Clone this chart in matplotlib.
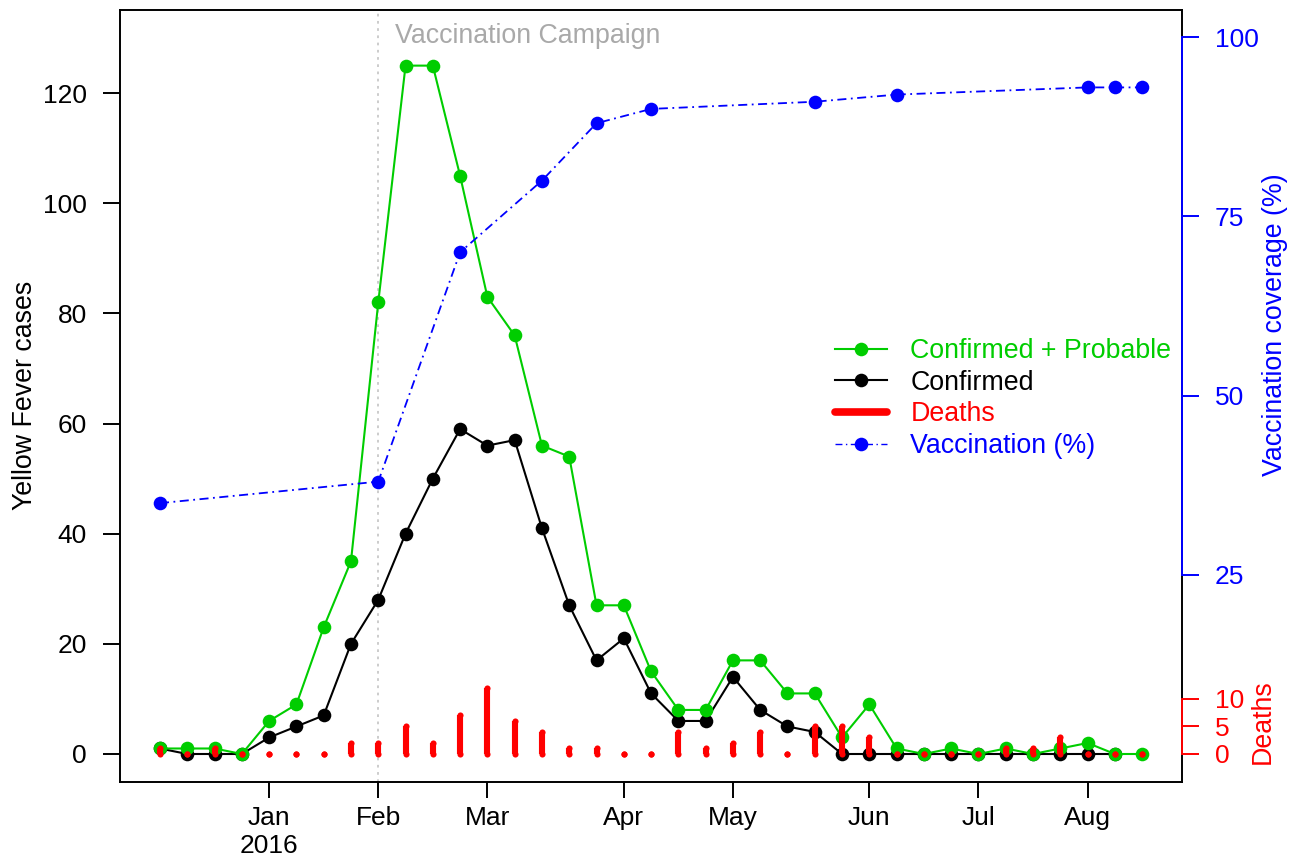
import numpy as np
import pandas as pd
import matplotlib
matplotlib.use('Agg')
import matplotlib.pyplot as plt
from matplotlib.lines import Line2D

plt.rcParams['font.family'] = ['Liberation Sans', 'DejaVu Sans']

# ---------------- data ----------------
week_start = pd.date_range('2015-12-08', periods=37, freq='7D')
confirmed_probable = [1, 1, 1, 0, 6, 9, 23, 35, 82, 125, 125, 105, 83, 76, 56, 54,
                      27, 27, 15, 8, 8, 17, 17, 11, 11, 3, 9, 1, 0, 1, 0, 1, 0, 1, 2, 0, 0]
confirmed = [1, 0, 0, 0, 3, 5, 7, 20, 28, 40, 50, 59, 56, 57, 41, 27,
             17, 21, 11, 6, 6, 14, 8, 5, 4, 0, 0, 0, 0, 0, 0, 0, 0, 0, 0, 0, np.nan]
deaths = [1, 0, 1, 0, 0, 0, 0, 2, 2, 5, 2, 7, 12, 6, 4, 1,
          1, 0, 0, 4, 1, 2, 4, 0, 5, 5, 3, 0, 0, 0, 0, 1, 1, 3, 0, 0, 0]
vacc_week_index = [0, 8, 11, 14, 16, 18, 24, 27, 34, 35, 36]
vacc_coverage = [35, 38, 70, 80, 88, 90, 91, 92, 93, 93, 93]
campaign_start = pd.Timestamp('2016-02-02')
month_names = ['Jan', 'Feb', 'Mar', 'Apr', 'May', 'Jun', 'Jul', 'Aug']
month_numbers = [1, 2, 3, 4, 5, 6, 7, 8]
tick_year = '2016'

# ---------------- derived positions ----------------
x = np.arange(len(week_start))
tick_idx = []
for m in month_numbers:
    idx = [i for i, d in enumerate(week_start) if d.year == 2016 and d.month == m][0]
    tick_idx.append(idx)
tick_labels = [month_names[0] + '\n' + tick_year] + month_names[1:]
campaign_idx = int(np.argmin(np.abs((week_start - campaign_start).days)))

GREEN = '#00CD00'
BLUE = '#0000FF'
RED = '#FF0000'
FS = 19
FS_TXT = 19.3

W, H = 1301, 861
fig = plt.figure(figsize=(W / 100, H / 100), dpi=100)
left, right, top, bottom = 120, 1182, 10, 781.7
ax = fig.add_axes([left / W, 1 - bottom / H, (right - left) / W, (bottom - top) / H])

ax.set_xlim(-1.466, 37.46)
ylo, yhi = -5.03, 135.1
ax.set_ylim(ylo, yhi)

# campaign marker
ax.axvline(campaign_idx, color='#C8C8C8', ls=(0, (1.5, 2.5)), lw=1.3, zorder=1)
ax.text(campaign_idx + 0.62, 130.3, 'Vaccination Campaign', color='#A9A9A9',
        fontsize=FS_TXT, va='center', ha='left')

ms = 9.8
ax.plot(x, confirmed, color='black', lw=1.5, marker='o', ms=ms, mew=0, zorder=3)
ax.plot(x, confirmed_probable, color=GREEN, lw=1.5, marker='o', ms=ms, mew=0, zorder=4)

for s in ax.spines.values():
    s.set_linewidth(1.4)
ax.set_yticks(range(0, 121, 20))
ax.tick_params(axis='y', direction='out', length=12, width=1.4, labelsize=FS, pad=12)
ax.set_xticks(tick_idx)
ax.set_xticklabels(tick_labels)
ax.tick_params(axis='x', direction='out', length=11.5, width=1.4, labelsize=FS, pad=6)

# vaccination axis
scale = yhi / 103.8
dashdot = (0, (5, 2.5, 1, 2.5))
ax2 = ax.twinx()
ax2.set_ylim(ylo / scale, yhi / scale)
ax2.plot(vacc_week_index, vacc_coverage, color=BLUE, lw=1.3, ls=dashdot,
         marker='o', ms=ms, mew=0)
for k in ['left', 'top', 'bottom']:
    ax2.spines[k].set_visible(False)
ax2.spines['right'].set_bounds(25, 100)
ax2.spines['right'].set_color(BLUE)
ax2.spines['right'].set_linewidth(1.4)
ax2.set_yticks([25, 50, 75, 100])
ax2.tick_params(axis='y', direction='out', length=12, width=1.4, labelsize=FS, pad=11.5,
                colors=BLUE)

# deaths axis
ax3 = ax.twinx()
ax3.set_ylim(ylo, yhi)
bar_lw = 4.4
ax3.vlines(x, 0, deaths, colors=RED, lw=bar_lw)
ax3.plot(x, np.zeros(len(x)), 'o', color=RED, ms=bar_lw, mew=0)
ax3.plot(x, deaths, 'o', color=RED, ms=bar_lw, mew=0)
for k in ['left', 'top', 'bottom']:
    ax3.spines[k].set_visible(False)
ax3.spines['right'].set_bounds(0, 10)
ax3.spines['right'].set_color(RED)
ax3.spines['right'].set_linewidth(1.4)
ax3.set_yticks([0, 5, 10])
ax3.tick_params(axis='y', direction='out', length=12, width=1.4, labelsize=FS, pad=11.5,
                colors=RED)

# axis titles
fig.text(25 / W, 1 - 395 / H, 'Yellow Fever cases', rotation=90, ha='center', va='center',
         fontsize=FS_TXT)
fig.text(1275 / W, 1 - 325 / H, 'Vaccination coverage (%)', rotation=90, ha='center',
         va='center', fontsize=FS_TXT, color=BLUE)
fig.text(1263 / W, 1 - 722 / H, 'Deaths', rotation=90, ha='center', va='center',
         fontsize=FS_TXT, color=RED)

# legend
handles = [
    Line2D([], [], color=GREEN, lw=1.5, marker='o', ms=ms, mew=0),
    Line2D([], [], color='black', lw=1.5, marker='o', ms=ms, mew=0),
    Line2D([], [], color=RED, lw=5.5, solid_capstyle='round'),
    Line2D([], [], color=BLUE, lw=1.0, ls=dashdot, marker='o', ms=ms, mew=0),
]
labels = ['Confirmed + Probable', 'Confirmed', 'Deaths', 'Vaccination (%)']
ax3.legend(handles, labels, loc='upper left', bbox_to_anchor=(835 / W, 1 - 338 / H),
           bbox_transform=fig.transFigure, frameon=False, fontsize=FS_TXT,
           handlelength=1.95, handletextpad=0.86, labelspacing=0.21, borderpad=0,
           borderaxespad=0, labelcolor='linecolor', numpoints=1)

fig.savefig('out.png', dpi=100)
